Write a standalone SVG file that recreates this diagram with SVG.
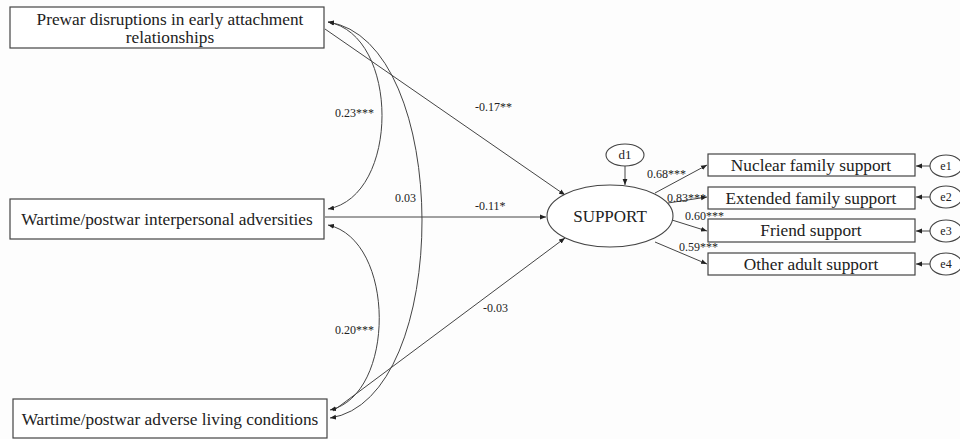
<svg xmlns="http://www.w3.org/2000/svg" width="960" height="439" viewBox="0 0 960 439">
<defs>
<marker id="ah" viewBox="0 0 10 10" refX="10" refY="5" markerWidth="6" markerHeight="6" orient="auto-start-reverse" markerUnits="userSpaceOnUse">
<path d="M0,1 L10,5 L0,9 z" fill="#222"/>
</marker>
<style>
.box{fill:#fff;stroke:#444;stroke-width:1.2}
.ell{fill:#fff;stroke:#444;stroke-width:1.1}
.t{font-family:"Liberation Serif","Times New Roman",serif;fill:#222;text-anchor:middle}
.big{font-size:17.3px}
.lab{font-size:12px;text-anchor:start}
.ln{fill:none;stroke:#444;stroke-width:1}
</style>
</defs>
<rect width="960" height="439" fill="#fdfdfd"/>
<g id="connectors">
<line class="ln" x1="325" y1="29" x2="565" y2="195" marker-end="url(#ah)"/>
<line class="ln" x1="325" y1="217" x2="546" y2="217" marker-end="url(#ah)"/>
<line class="ln" x1="333" y1="411" x2="565" y2="238" marker-end="url(#ah)"/>
<path class="ln" d="M328,22 C400,35 400,196 328,209" marker-start="url(#ah)" marker-end="url(#ah)"/>
<path class="ln" d="M328,22 C453,40 453,400 330,418" marker-start="url(#ah)" marker-end="url(#ah)"/>
<path class="ln" d="M328,225 C396,240 396,395 330,410" marker-start="url(#ah)" marker-end="url(#ah)"/>
<line class="ln" x1="625" y1="166" x2="625" y2="185" marker-end="url(#ah)"/>
<line class="ln" x1="655" y1="193" x2="707" y2="165" marker-end="url(#ah)"/>
<line class="ln" x1="668" y1="203" x2="707" y2="197" marker-end="url(#ah)"/>
<line class="ln" x1="672" y1="220" x2="707" y2="231" marker-end="url(#ah)"/>
<line class="ln" x1="655" y1="242" x2="707" y2="264" marker-end="url(#ah)"/>
<line class="ln" x1="930" y1="166" x2="916" y2="166" marker-end="url(#ah)"/>
<line class="ln" x1="930" y1="197" x2="916" y2="197" marker-end="url(#ah)"/>
<line class="ln" x1="930" y1="231" x2="916" y2="231" marker-end="url(#ah)"/>
<line class="ln" x1="930" y1="264" x2="916" y2="264" marker-end="url(#ah)"/>
<text class="t lab" x="475" y="111">-0.17**</text>
<text class="t lab" x="475" y="210">-0.11*</text>
<text class="t lab" x="483" y="312">-0.03</text>
<text class="t lab" x="335" y="117">0.23***</text>
<text class="t lab" x="395" y="202">0.03</text>
<text class="t lab" x="335" y="334">0.20***</text>
<text class="t lab" x="647" y="178">0.68***</text>
<text class="t lab" x="667" y="202">0.83***</text>
<text class="t lab" x="685" y="220">0.60***</text>
<text class="t lab" x="679" y="251">0.59***</text>
</g>
<g id="n-prewar">
<rect class="box" x="10" y="7" width="314" height="41"/>
<text class="t big" x="170" y="25">Prewar disruptions in early attachment</text>
<text class="t big" x="170" y="43">relationships</text>
</g>
<g id="n-interpersonal">
<rect class="box" x="10" y="199" width="314" height="40"/>
<text class="t big" x="167" y="225">Wartime/postwar interpersonal adversities</text>
</g>
<g id="n-living">
<rect class="box" x="13" y="399" width="314" height="39"/>
<text class="t big" x="170" y="425">Wartime/postwar adverse living conditions</text>
</g>
<g id="n-support">
<ellipse class="ell" cx="610" cy="216" rx="63" ry="31"/>
<text class="t" style="font-size:17px" x="610" y="222">SUPPORT</text>
</g>
<g id="n-d1">
<ellipse class="ell" cx="625" cy="155" rx="19" ry="11"/>
<text class="t" style="font-size:13px" x="625" y="159">d1</text>
</g>
<g id="n-nuclear">
<rect class="box" x="708" y="154" width="207" height="22"/>
<text class="t big" x="811" y="171">Nuclear family support</text>
</g>
<g id="n-extended">
<rect class="box" x="708" y="187" width="207" height="22"/>
<text class="t big" x="811" y="204">Extended family support</text>
</g>
<g id="n-friend">
<rect class="box" x="708" y="219" width="207" height="23"/>
<text class="t big" x="811" y="236">Friend support</text>
</g>
<g id="n-other">
<rect class="box" x="708" y="253" width="207" height="22"/>
<text class="t big" x="811" y="270">Other adult support</text>
</g>
<g id="n-e1">
<ellipse class="ell" cx="946" cy="166" rx="16" ry="11"/>
<text class="t" style="font-size:12px" x="946" y="170">e1</text>
</g>
<g id="n-e2">
<ellipse class="ell" cx="946" cy="197" rx="16" ry="11"/>
<text class="t" style="font-size:12px" x="946" y="201">e2</text>
</g>
<g id="n-e3">
<ellipse class="ell" cx="946" cy="231" rx="16" ry="11"/>
<text class="t" style="font-size:12px" x="946" y="235">e3</text>
</g>
<g id="n-e4">
<ellipse class="ell" cx="946" cy="264" rx="16" ry="11"/>
<text class="t" style="font-size:12px" x="946" y="268">e4</text>
</g>
</svg>
